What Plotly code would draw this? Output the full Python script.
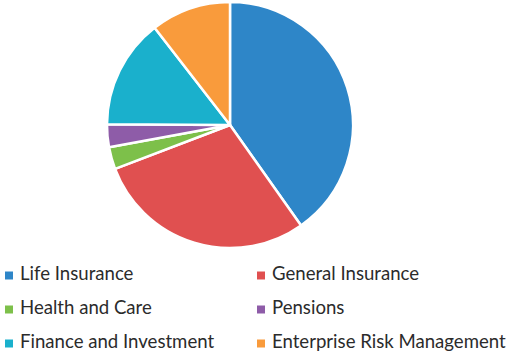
import plotly.graph_objects as go

categories = ["Life Insurance", "General Insurance", "Health and Care",
              "Pensions", "Finance and Investment", "Enterprise Risk Management"]
values = [40.2, 29.0, 2.9, 3.0, 14.4, 10.5]
colors = ["#2E86C8", "#E05050", "#7DC04A", "#8E5CA8", "#1AB0CC", "#F99B3C"]

W, H = 507, 355
cx, cy, r = 230, 125, 123

fig = go.Figure()
fig.add_trace(go.Pie(
    labels=categories, values=values, sort=False, direction="clockwise",
    rotation=0, textinfo="none", showlegend=False,
    marker=dict(colors=colors, line=dict(color="white", width=2.5)),
    domain=dict(x=[(cx - r) / W, (cx + r) / W], y=[1 - (cy + r) / H, 1 - (cy - r) / H]),
))

# legend grid: two columns, three rows
x0, x1 = 9, 261          # pixel centres of legend columns
y0, dy = 275.5, 34       # pixel centre of first row and row spacing
text_gap = 11 / (x1 - x0)  # offset of label from swatch centre, in column units

cols = [i % 2 for i in range(len(categories))]
rows = [i // 2 for i in range(len(categories))]
fig.add_trace(go.Scatter(
    x=cols, y=rows, mode="markers", showlegend=False, hoverinfo="skip",
    marker=dict(symbol="square", size=8, color=colors),
    cliponaxis=False,
))
fig.add_trace(go.Scatter(
    x=[c + text_gap for c in cols], y=rows, mode="text", text=categories,
    textposition="middle right", showlegend=False, hoverinfo="skip",
    textfont=dict(family="Lato", size=18.6, color="#2b2b2b"),
    cliponaxis=False,
))

fig.update_layout(
    width=W, height=H, margin=dict(l=0, r=0, t=0, b=0),
    paper_bgcolor="white", plot_bgcolor="rgba(0,0,0,0)",
    xaxis=dict(visible=False, range=[-x0 / (x1 - x0), (W - x0) / (x1 - x0)], fixedrange=True),
    yaxis=dict(visible=False, range=[(H - y0) / dy, -y0 / dy], fixedrange=True),
)
fig.write_html("out.html", config={"displayModeBar": False},
               post_script="document.body.style.margin='0';")
